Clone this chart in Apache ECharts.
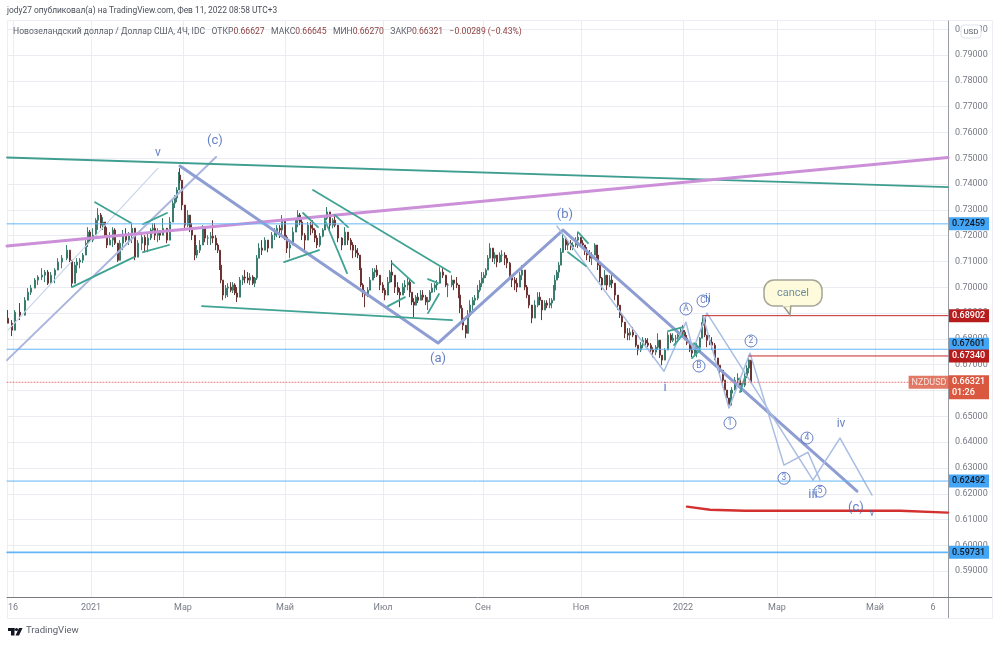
<!DOCTYPE html>
<html><head><meta charset="utf-8">
<script src="https://cdn.jsdelivr.net/npm/echarts@6/dist/echarts.min.js"></script>
<style>html,body{margin:0;padding:0;background:#fff}#c{width:1000px;height:645px;filter:blur(.35px)}</style></head>
<body><div id="c"></div>
<script>
// Bar slots on the session scale, and the prices
const barSlot=[8,12,15,20,25,28,31,35,38,42,45,48,51,55,58,62,67,70,72,75,77,80,83,86,88,90,93,96,98,101,103,105,107,110,113,115,118,120,123,126,129,132,135,138,142,145,148,151,153,155,158,160,163,167,170,173,175,177,179,180,182,185,188,190,192,195,197,200,203,205,208,211,213,216,218,220,221,223,226,228,231,233,235,237,240,243,245,248,250,253,255,257,259,262,265,268,272,275,277,280,282,285,287,290,293,296,298,300,302,305,308,311,313,315,317,320,323,325,327,330,333,335,338,342,345,348,351,353,356,358,360,361,363,365,368,370,373,375,377,380,383,385,388,390,392,395,398,400,403,405,408,410,412,414,416,418,421,423,426,428,430,432,435,437,440,443,446,448,452,454,457,459,460,462,463,466,468,470,473,475,478,480,482,484,486,488,490,493,495,497,500,502,505,507,510,512,515,517,520,522,525,527,529,532,535,538,540,542,545,547,550,552,554,555,557,559,561,563,566,568,571,573,576,578,581,583,585,587,590,592,595,597,598,600,602,605,607,610,612,615,618,620,622,625,628,630,633,636,638,641,643,646,648,651,653,656,658,660,662,665,668,671,673,676,678,681,683,685,687,690,692,695,697,700,702,703,705,707,710,712,715,718,720,723,725,727,729,731,732,735,738,740,742,745,747,749,751];
const barHigh=[.6912,.6873,.6912,.6939,.6962,.6997,.7009,.7036,.7047,.7074,.7067,.7067,.7059,.7074,.7113,.7125,.7164,.7144,.7105,.7098,.7113,.7113,.7133,.7183,.7233,.7222,.7229,.7268,.7307,.7288,.7272,.7253,.7233,.7214,.7233,.7229,.7156,.7183,.7222,.7229,.7214,.7249,.7183,.7183,.7210,.7202,.7210,.7229,.7249,.7249,.7229,.7222,.7268,.7210,.7272,.7338,.7357,.7388,.7447,.7462,.7404,.7299,.7299,.7280,.7249,.7183,.7164,.7183,.7241,.7229,.7202,.7214,.7260,.7202,.7171,.7144,.7117,.7028,.7009,.7016,.7020,.7020,.7016,.7001,.7040,.7047,.7067,.7059,.7055,.7047,.7040,.7125,.7171,.7183,.7194,.7183,.7214,.7229,.7241,.7241,.7280,.7253,.7202,.7183,.7233,.7268,.7299,.7288,.7268,.7210,.7253,.7253,.7260,.7229,.7202,.7210,.7229,.7280,.7311,.7272,.7268,.7280,.7233,.7194,.7233,.7210,.7191,.7175,.7164,.7152,.7125,.7105,.7016,.6989,.7001,.7040,.7074,.7074,.7086,.7028,.7020,.6997,.7040,.7067,.7105,.7020,.7020,.6997,.7016,.7028,.7040,.7028,.6981,.6958,.6970,.6978,.6989,.6989,.6970,.6962,.6989,.7016,.7016,.7028,.7078,.7074,.7047,.7016,.7047,.7028,.7040,.7009,.6978,.6931,.6900,.6842,.6912,.6950,.6962,.6970,.7009,.7028,.7059,.7059,.7074,.7125,.7171,.7144,.7136,.7125,.7136,.7144,.7136,.7125,.7098,.7040,.7040,.7036,.7059,.7086,.7028,.7009,.6970,.6919,.6950,.6981,.6981,.6939,.6950,.6950,.6958,.6958,.7009,.7047,.7067,.7098,.7152,.7210,.7191,.7183,.7183,.7175,.7194,.7214,.7194,.7183,.7164,.7156,.7144,.7136,.7171,.7164,.7144,.7086,.7040,.7067,.7040,.7047,.7047,.7001,.6962,.6931,.6900,.6846,.6842,.6842,.6846,.6815,.6776,.6788,.6807,.6803,.6803,.6784,.6768,.6776,.6822,.6776,.6737,.6764,.6826,.6822,.6822,.6815,.6822,.6842,.6853,.6834,.6815,.6788,.6776,.6776,.6784,.6807,.6865,.6892,.6873,.6815,.6815,.6807,.6784,.6726,.6698,.6679,.6640,.6602,.6563,.6602,.6613,.6652,.6667,.6648,.6629,.6667,.6698,.6726,.6718];
const barLow=[.6861,.6811,.6873,.6873,.6912,.6950,.6970,.7001,.7009,.7028,.7020,.7009,.7016,.7016,.7067,.7074,.7105,.7098,.7001,.7036,.7055,.7074,.7094,.7125,.7156,.7175,.7175,.7214,.7222,.7229,.7222,.7191,.7152,.7164,.7156,.7164,.7098,.7113,.7144,.7175,.7164,.7171,.7105,.7136,.7144,.7136,.7136,.7183,.7210,.7183,.7175,.7183,.7210,.7171,.7194,.7288,.7307,.7330,.7384,.7404,.7299,.7222,.7233,.7214,.7183,.7105,.7113,.7133,.7183,.7175,.7164,.7164,.7171,.7144,.7133,.7067,.7016,.6950,.6958,.6962,.6981,.6978,.6970,.6943,.6970,.7009,.7016,.7016,.7009,.7009,.7001,.7028,.7117,.7125,.7144,.7136,.7152,.7183,.7194,.7191,.7202,.7183,.7133,.7113,.7171,.7214,.7233,.7241,.7183,.7144,.7183,.7202,.7210,.7175,.7152,.7156,.7194,.7222,.7260,.7214,.7229,.7233,.7175,.7144,.7183,.7164,.7144,.7113,.7117,.7113,.7067,.7001,.6962,.6923,.6962,.6989,.7028,.7036,.7040,.6989,.6978,.6950,.6989,.7016,.7020,.6978,.6970,.6923,.6970,.6978,.6989,.6962,.6931,.6884,.6931,.6939,.6950,.6950,.6931,.6912,.6943,.6978,.6981,.6989,.7028,.7036,.7001,.6962,.7001,.6989,.6997,.6958,.6900,.6865,.6834,.6803,.6834,.6884,.6912,.6931,.6950,.6981,.7001,.7016,.7036,.7067,.7113,.7098,.7090,.7078,.7094,.7098,.7086,.7074,.7036,.7001,.6989,.6981,.7001,.7028,.6989,.6958,.6919,.6861,.6892,.6923,.6931,.6873,.6912,.6919,.6919,.6919,.6950,.6978,.7028,.7036,.7086,.7133,.7144,.7144,.7144,.7144,.7156,.7152,.7164,.7152,.7125,.7105,.7098,.7086,.7133,.7113,.7067,.7020,.6989,.7009,.6989,.7001,.6997,.6950,.6912,.6881,.6846,.6803,.6795,.6795,.6807,.6768,.6737,.6749,.6764,.6768,.6768,.6749,.6729,.6737,.6757,.6726,.6698,.6726,.6784,.6784,.6788,.6776,.6788,.6807,.6815,.6795,.6776,.6749,.6729,.6737,.6729,.6776,.6803,.6834,.6807,.6768,.6776,.6757,.6718,.6679,.6660,.6629,.6594,.6563,.6532,.6555,.6571,.6609,.6629,.6609,.6594,.6613,.6648,.6667,.6629];
const barClose=[.6861,.6834,.6904,.6892,.6950,.6981,.6997,.7028,.7040,.7047,.7059,.7016,.7047,.7067,.7098,.7113,.7144,.7105,.7016,.7086,.7098,.7105,.7125,.7171,.7214,.7183,.7202,.7260,.7280,.7241,.7253,.7202,.7164,.7183,.7222,.7171,.7105,.7171,.7202,.7183,.7202,.7229,.7117,.7171,.7194,.7164,.7191,.7222,.7229,.7202,.7210,.7202,.7229,.7183,.7253,.7326,.7346,.7377,.7435,.7415,.7319,.7241,.7280,.7229,.7202,.7125,.7144,.7164,.7229,.7191,.7191,.7198,.7191,.7164,.7144,.7086,.7028,.6970,.6997,.7001,.6989,.7009,.6978,.6962,.7028,.7040,.7036,.7028,.7040,.7016,.7036,.7113,.7152,.7144,.7183,.7152,.7202,.7214,.7229,.7222,.7260,.7194,.7152,.7164,.7214,.7260,.7280,.7253,.7202,.7183,.7241,.7229,.7222,.7191,.7164,.7198,.7222,.7268,.7292,.7241,.7260,.7241,.7191,.7164,.7214,.7183,.7164,.7144,.7133,.7125,.7074,.7009,.6978,.6970,.6989,.7028,.7059,.7067,.7047,.7009,.6989,.6970,.7020,.7059,.7047,.7001,.6981,.6970,.7001,.7009,.7020,.6981,.6943,.6931,.6962,.6950,.6970,.6962,.6943,.6950,.6981,.6997,.7009,.7016,.7059,.7047,.7009,.7009,.7028,.7016,.7009,.6970,.6919,.6881,.6853,.6822,.6892,.6931,.6950,.6958,.6989,.7016,.7036,.7047,.7067,.7113,.7152,.7113,.7125,.7098,.7125,.7125,.7113,.7094,.7047,.7028,.7016,.7001,.7047,.7067,.7001,.6970,.6931,.6881,.6931,.6962,.6950,.6912,.6939,.6931,.6939,.6950,.6989,.7028,.7059,.7086,.7136,.7191,.7164,.7171,.7156,.7164,.7183,.7194,.7171,.7164,.7144,.7125,.7113,.7125,.7164,.7125,.7086,.7036,.7009,.7047,.7009,.7028,.7016,.6970,.6931,.6892,.6865,.6822,.6815,.6826,.6815,.6776,.6757,.6776,.6795,.6784,.6776,.6757,.6749,.6768,.6795,.6737,.6718,.6757,.6815,.6795,.6803,.6803,.6815,.6834,.6826,.6803,.6784,.6757,.6745,.6764,.6768,.6803,.6853,.6881,.6815,.6795,.6788,.6776,.6726,.6698,.6679,.6640,.6602,.6571,.6543,.6590,.6602,.6640,.6648,.6621,.6621,.6656,.6687,.6718,.6632];
const firstOpen=.6880;

// Axis ticks
const yTicks=[.59,.60,.61,.62,.63,.64,.65,.66,.67,.68,.69,.70,.71,.72,.73,.74,.75,.76,.77,.78,.79,.80];
const xTickSlots=[13,91,183,285,383,483,581,683,777,875,933];
const xTickLabels=['16','2021','Мар','Май','Июл','Сен','Ноя','2022','Мар','Май','6'];

// Drawn lines: [slot, price]
const ceilingLine=[[7,.7503],[948,.7388]];
const purpleLine=[[7,.7160],[948,.7503]];
const mainWave=[[180,.7470],[438,.6784],[563,.7222],[857,.6210]];
const riseLine=[[7,.6718],[216,.7505]];
const lightRise=[[8,.6834],[158,.7462]];
const pathOuter=[[557,.7237],[664,.6675],[686,.6865],[693,.6757],[707,.6900],[813,.6253],[840,.6416],[872,.6195]];
const pathInner=[[703,.6888],[729,.6532],[750,.6745],[784,.6311],[808,.6361],[820,.6253]];
const redSupport=[[687,.6150],[710,.6138],[745,.6134],[900,.6134],[948,.6127]];
const tealSegments=[
 [[95,.7330],[131,.7249]],[[143,.7245],[167,.7288]],[[72,.7001],[134,.7117]],[[143,.7136],[169,.7164]],
 [[202,.6927],[452,.6873]],[[284,.7098],[319,.7144]],[[303,.7288],[318,.7233]],[[313,.7377],[450,.7059]],
 [[325,.7260],[347,.7055]],[[335,.7280],[348,.7233]],[[392,.7094],[414,.7016]],[[388,.6927],[405,.6962]],
 [[428,.7032],[438,.7016]],[[428,.6900],[439,.6974]],[[578,.7214],[588,.7171]],[[568,.7136],[586,.7082]],
 [[668,.6830],[683,.6846]],[[674,.6776],[684,.6822]],[[692,.6726],[700,.6757]],[[694,.6784],[700,.6764]],
 [[740,.6594],[745,.6652]]
];

// Price levels
const blueLevels=[.72459,.67601,.62492,.59731];
const blueLevelWidths=[1,1,1,1.6];
const blueTagNudge=[0,-5,0,0];
const redLevels=[[703,.68902],[749,.67340]];
const lastPrice=.66321, lastTimer='01:26';

// Wave labels
const waveText=[['v',158,.7520,12],['(c)',215,.7567,13],['(b)',565,.7280,13],['(a)',438,.6722,13],['i',665,.6609,13],['iii',813,.6195,13],['iv',841,.6470,12],['v',872,.6125,10],['(c)',856,.6144,13],['ii',708,.6954,12]];
const waveCircled=[['A',686,.6916],['B',699,.6695],['C',703,.6947],['1',730,.6474],['2',751,.6792],['3',784,.6260],['4',807,.6416],['5',820,.6210]];

const FONT='Roboto, "Noto Sans", sans-serif';
const WAVE='#3f62b5';
const candles=barSlot.map((s,i)=>[s,i?barClose[i-1]:firstOpen,barClose[i],barLow[i],barHigh[i]]);
const lineSeries=(data,color,width,z)=>({type:'line',data,symbol:'none',silent:true,z:z||3,clip:true,lineStyle:{color,width,cap:'round',join:'round'}});
const tag=(bg,fg)=>({show:true,distance:1,color:fg,backgroundColor:bg,fontFamily:FONT,fontSize:9,fontWeight:500,width:34,align:'left',padding:[2,3,2,3],lineHeight:9});

const series=[
 {type:'candlestick',data:candles,barWidth:2,z:2,silent:true,
  itemStyle:{color:'#3fa08c',color0:'#9a4a46',borderColor:'#3a7d6e',borderColor0:'#6b3432',borderWidth:1}},
 lineSeries(lightRise,'#c9d5ec',1.2),
 lineSeries(riseLine,'#aab5de',2),
 lineSeries(ceilingLine,'#3f9e90',1.8),
 lineSeries(purpleLine,'#cc90d9',3),
 lineSeries(mainWave,'#8e9dd2',3),
 lineSeries(pathOuter,'#a9bde2',1.5),
 lineSeries(pathInner,'#a9bde2',1.5),
 lineSeries(redSupport,'#d3302f',2.4,4),
 ...tealSegments.map(s=>lineSeries(s,'#3fa394',1.8))
];
blueLevels.forEach((p,i)=>{
  const s=lineSeries([[7,p],[948,p]],'#64b5f6',blueLevelWidths[i],3);
  s.endLabel=Object.assign(tag('#42a5f5','#131722'),{formatter:p.toFixed(5),offset:[0,blueTagNudge[i]]});
  series.push(s);
});
redLevels.forEach(([x,p])=>{
  const s=lineSeries([[x,p],[948,p]],'#c62828',1,4);
  s.endLabel=Object.assign(tag('#b71c1c','#ffffff'),{formatter:p.toFixed(5)});
  series.push(s);
});
const cur=lineSeries([[7,lastPrice],[948,lastPrice]],'#e57373',1,3);
cur.lineStyle.type=[1,2];
cur.endLabel=Object.assign(tag('#d9583f','#ffffff'),{formatter:lastPrice.toFixed(5)+'\n'+lastTimer,lineHeight:11,padding:[1,3,1,3],offset:[0,5]});
series.push(cur);
series.push({type:'scatter',symbolSize:0,silent:true,z:6,clip:false,
 data:[[929,lastPrice]],
 label:{show:true,position:'inside',formatter:'NZDUSD',fontFamily:FONT,fontSize:9,color:'#fff',backgroundColor:'#d9583f',padding:[2,3,2,3],lineHeight:9}});
series.push({type:'scatter',symbolSize:0,silent:true,z:6,clip:false,
 data:waveText.map(w=>({value:[w[1],w[2]],name:w[0],label:{fontSize:w[3]}})),
 label:{show:true,position:'inside',formatter:p=>p.name,color:WAVE,fontFamily:FONT}});
series.push({type:'scatter',symbolSize:0,silent:true,z:6,clip:false,
 data:waveCircled.map(w=>({value:[w[1],w[2]],name:w[0]})),
 label:{show:true,position:'inside',formatter:p=>p.name,color:WAVE,fontFamily:FONT,fontSize:8.5,
  borderColor:WAVE,borderWidth:1,borderRadius:6.5,width:12,height:12,lineHeight:12,align:'center',verticalAlign:'middle'}});

const legendRich={a:{color:'#5d606b',fontSize:8.6,fontFamily:FONT,fontWeight:'normal'},b:{color:'#8c3f3f',fontSize:8.6,fontFamily:FONT,fontWeight:'normal'}};
const option={
 animation:false,
 backgroundColor:'#fff',
 title:[
  {text:'jody27 опубликовал(а) на TradingView.com, Фев 11, 2022 08:58 UTC+3',left:7,top:7,padding:0,textStyle:{fontFamily:FONT,fontSize:8.4,fontWeight:'normal',color:'#4a4e59'}},
  {text:'{a|Новозеландский доллар / Доллар США, 4Ч, IDC   ОТКР}{b|0.66627}{a|   МАКС}{b|0.66645}{a|   МИН}{b|0.66270}{a|   ЗАКР}{b|0.66321}{b|   −0.00289 (−0.43%)}',left:13,top:27,padding:0,
   textStyle:{fontFamily:FONT,fontSize:8.6,fontWeight:'normal',rich:legendRich}},
  {text:'TradingView',left:26,top:626,padding:0,textStyle:{fontFamily:FONT,fontSize:9.6,fontWeight:'normal',color:'#5d606b'}}
 ],
 grid:{left:7,right:52,top:21,bottom:48,containLabel:false},
 xAxis:{type:'value',min:7,max:948,
  axisLine:{show:true,onZero:false,lineStyle:{color:'#777a80',width:1}},
  axisTick:{show:false,customValues:xTickSlots},
  axisLabel:{customValues:xTickSlots,formatter:v=>xTickLabels[xTickSlots.indexOf(v)],color:'#787b86',fontFamily:FONT,fontSize:9,margin:6,showMinLabel:true,showMaxLabel:true,hideOverlap:false},
  splitLine:{show:true,lineStyle:{color:'#ebecf1',width:1}}},
 yAxis:{type:'value',position:'right',min:.58,max:.8032,
  axisLine:{show:true,lineStyle:{color:'#9a9ca3',width:1}},
  axisTick:{show:false,customValues:yTicks},
  axisLabel:{customValues:yTicks,formatter:v=>v.toFixed(5),color:'#787b86',fontFamily:FONT,fontSize:9,margin:7,hideOverlap:false},
  splitLine:{show:true,lineStyle:{color:'#ebecf1',width:1}}},
 series,
 graphic:[
  {type:'rect',silent:true,z:-1,shape:{x:7.5,y:20.5,width:985,height:598},style:{fill:'none',stroke:'#eceef5',lineWidth:1}},
  {type:'line',silent:true,z:10,shape:{x1:948.5,y1:597,x2:948.5,y2:618},style:{stroke:'#9a9ca3',lineWidth:1}},
  {type:'line',silent:true,z:10,shape:{x1:948,y1:597.5,x2:992,y2:597.5},style:{stroke:'#777a80',lineWidth:1}},
  {type:'rect',silent:true,z:20,shape:{x:961,y:25,width:20,height:13,r:3},style:{fill:'#fff',stroke:'#e0e3eb',lineWidth:1}},
  {type:'text',silent:true,z:21,style:{x:971,y:31.5,text:'USD',align:'center',verticalAlign:'middle',font:'8px '+FONT,fill:'#5d606b'}},
  // "cancel" note
  {type:'polygon',silent:true,z:20,shape:{points:[[782,304],[790,315],[791,304]]},style:{fill:'#fdfbdc',stroke:'#9b9b8c',lineWidth:1.5}},
  {type:'rect',silent:true,z:21,shape:{x:764,y:280,width:58,height:26,r:10},style:{fill:'#fdfbdc',stroke:'#a5a596',lineWidth:1.5}},
  {type:'rect',silent:true,z:22,shape:{x:783,y:303,width:7,height:3.5},style:{fill:'#fdfbdc'}},
  {type:'text',silent:true,z:23,style:{x:793,y:293,text:'cancel',align:'center',verticalAlign:'middle',font:'11px '+FONT,fill:'#6f8f9f'}},
  // logo
  {type:'rect',silent:true,z:20,shape:{x:8,y:628,width:6.5,height:3},style:{fill:'#131722'}},
  {type:'rect',silent:true,z:20,shape:{x:11,y:628,width:3.5,height:7.5},style:{fill:'#131722'}},
  {type:'circle',silent:true,z:20,shape:{cx:16.5,cy:629.5,r:1.6},style:{fill:'#131722'}},
  {type:'polygon',silent:true,z:20,shape:{points:[[19,628],[22.5,628],[19,635.5],[15.5,635.5]]},style:{fill:'#131722'}}
 ]
};
const chart=echarts.init(document.getElementById('c'),null,{renderer:'canvas',width:1000,height:645});
chart.setOption(option);
</script></body></html>
